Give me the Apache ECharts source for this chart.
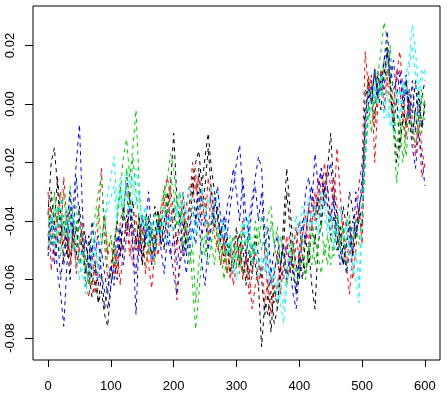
<!DOCTYPE html>
<html>
<head>
<meta charset="utf-8">
<script src="https://cdn.jsdelivr.net/npm/echarts@6/dist/echarts.min.js"></script>
<style>
  html, body { margin: 0; padding: 0; background: #fff; }
  #chart { width: 447px; height: 397px; }
</style>
</head>
<body>
<div id="chart"></div>
<script>
// sampled every 5 units on x, values below are in thousandths
const step = 5;
const scale = 0.001;

const seriesBlack = [-38,-20,-15,-28,-45,-40,-52,-35,-48,-42,-55,-50,-62,-58,-66,-60,-68,-64,-72,-76,
  -62,-55,-60,-46,-50,-38,-44,-33,-48,-40,-52,-45,-38,-47,-35,-44,-39,-50,-34,-28,
  -10,-32,-40,-35,-48,-42,-30,-20,-16,-28,-18,-10,-22,-30,-38,-45,-40,-52,-48,-56,
  -50,-44,-58,-52,-60,-48,-55,-62,-83,-68,-72,-64,-75,-70,-58,-40,-22,-35,-48,-55,
  -60,-52,-58,-50,-62,-70,-48,-40,-28,-22,-10,-30,-38,-45,-35,-42,-30,-36,-45,-40,
  -35,5,2,8,-5,10,4,15,20,8,-5,-20,-10,0,-8,5,-3,8,-5,2,8];

const seriesRed = [-30,-57,-45,-38,-48,-25,-40,-52,-46,-55,-50,-44,-62,-66,-55,-58,-40,-22,-48,-60,
  -55,-48,-58,-40,-35,-28,-48,-55,-45,-52,-38,-48,-55,-63,-50,-42,-36,-30,-25,-33,
  -45,-67,-52,-45,-35,-28,-32,-24,-38,-30,-42,-25,-35,-45,-50,-42,-55,-48,-60,-52,
  -45,-55,-40,-50,-58,-70,-62,-55,-60,-50,-65,-58,-68,-62,-55,-60,-50,-45,-58,-48,
  -40,-52,-45,-35,-42,-30,-38,-25,-32,-22,-28,-35,-15,-30,-45,-55,-65,-50,-40,-28,
  -20,18,5,10,-20,0,8,3,12,5,0,10,18,5,-8,2,-5,-15,-8,-25,-20];

const seriesGreen = [-42,-38,-48,-35,-40,-30,-45,-36,-50,-40,-55,-48,-58,-52,-45,-38,-30,-25,-42,-55,
  -60,-48,-40,-30,-18,-12,-25,-15,-2,-28,-45,-55,-50,-42,-48,-38,-44,-32,-25,-17,
  -22,-35,-30,-40,-50,-45,-62,-77,-65,-52,-45,-55,-48,-38,-45,-55,-48,-58,-50,-45,
  -55,-48,-60,-52,-45,-55,-48,-42,-50,-45,-38,-35,-48,-42,-55,-50,-58,-48,-55,-62,
  -58,-52,-60,-48,-55,-45,-52,-58,-48,-55,-45,-52,-40,-48,-55,-45,-38,-48,-42,-35,
  -30,-15,-5,5,0,10,18,28,22,5,-10,-27,-15,-5,-18,-5,-12,-2,-10,5,-5];

const seriesBlue = [-45,-48,-40,-58,-65,-76,-55,-42,-35,-20,-7,-38,-48,-55,-40,-50,-45,-58,-64,-70,
  -62,-55,-45,-52,-38,-25,-32,-48,-72,-45,-55,-42,-30,-45,-52,-40,-48,-44,-36,-50,
  -58,-65,-55,-48,-58,-50,-42,-48,-38,-55,-62,-48,-40,-32,-40,-45,-38,-45,-35,-28,
  -20,-14,-30,-55,-40,-32,-25,-18,-22,-45,-55,-62,-58,-52,-60,-55,-48,-55,-65,-70,
  -58,-45,-30,-25,-35,-17,-28,-22,-30,-25,-20,-35,-45,-50,-55,-48,-42,-52,-30,-38,
  -25,-10,0,5,10,3,8,15,25,12,5,8,12,2,10,-5,-15,-22,-10,-18,-28];

const seriesCyan = [-40,-44,-35,-48,-38,-45,-35,-42,-50,-45,-55,-58,-65,-55,-60,-50,-55,-48,-40,-30,
  -25,-18,-35,-30,-40,-22,-28,-25,-35,-30,-42,-38,-45,-40,-50,-42,-45,-38,-48,-40,
  -32,-38,-30,-40,-35,-42,-48,-40,-35,-28,-38,-32,-40,-35,-30,-38,-45,-52,-48,-55,
  -60,-52,-45,-38,-42,-50,-48,-55,-58,-52,-62,-56,-65,-60,-68,-75,-62,-55,-48,-45,
  -40,-45,-38,-42,-35,-40,-32,-38,-30,-42,-35,-45,-40,-48,-42,-50,-45,-55,-60,-68,
  -40,-20,-5,0,5,0,8,2,-5,0,-10,-5,5,-2,10,15,27,18,5,12,10];

const seriesBlack2 = [-50,-30,-42,-25,-38,-55,-45,-60,-40,-52,-35,-48,-58,-45,-62,-55,-68,-58,-70,-62,
  -58,-48,-40,-52,-35,-45,-30,-42,-50,-38,-55,-46,-40,-52,-44,-36,-48,-40,-30,-42,
  -35,-48,-38,-52,-45,-35,-25,-40,-22,-35,-28,-15,-30,-42,-35,-48,-52,-45,-58,-50,
  -42,-55,-48,-62,-50,-58,-45,-52,-60,-72,-65,-78,-62,-70,-55,-48,-30,-42,-55,-65,
  -52,-60,-45,-55,-40,-48,-32,-42,-28,-35,-45,-38,-50,-42,-55,-48,-40,-52,-45,-38,
  -42,-5,8,0,12,5,-2,10,18,5,-8,2,-15,-5,8,0,-10,-2,5,-8,0];

const seriesRed2 = [-45,-35,-52,-40,-30,-48,-38,-55,-42,-58,-48,-40,-55,-62,-50,-65,-55,-48,-38,-52,
  -45,-58,-50,-62,-48,-40,-52,-45,-38,-50,-42,-58,-48,-55,-44,-52,-40,-32,-45,-28,
  -38,-50,-42,-30,-45,-35,-20,-30,-25,-40,-32,-45,-28,-38,-48,-55,-45,-58,-50,-62,
  -55,-48,-60,-52,-65,-58,-50,-62,-55,-68,-60,-72,-58,-50,-65,-55,-45,-58,-50,-42,
  -55,-45,-38,-48,-32,-40,-25,-35,-20,-30,-40,-25,-35,-48,-40,-55,-45,-60,-50,-35,
  -48,-10,10,0,-8,5,12,-2,8,0,-5,12,5,-5,-12,0,-10,-18,-5,-15,-22];

const seriesGreen2 = [-36,-48,-30,-42,-52,-38,-45,-28,-40,-35,-48,-42,-55,-62,-50,-45,-35,-48,-38,-50,
  -45,-55,-38,-28,-40,-22,-35,-18,-30,-40,-48,-38,-52,-45,-55,-42,-35,-28,-38,-25,
  -30,-42,-35,-48,-40,-55,-48,-68,-55,-45,-52,-40,-48,-55,-42,-50,-60,-52,-45,-55,
  -48,-58,-42,-50,-45,-55,-40,-48,-38,-45,-52,-40,-48,-55,-45,-52,-62,-55,-48,-58,
  -52,-45,-58,-50,-42,-55,-48,-40,-52,-45,-55,-48,-38,-50,-42,-58,-50,-45,-40,-48,
  -38,-20,0,-10,5,12,3,15,8,20,-2,-15,-5,-20,-8,0,-8,-15,-3,-10,2];

const seriesBlue2 = [-52,-40,-55,-45,-60,-50,-42,-30,-45,-25,-40,-52,-45,-58,-48,-55,-62,-50,-58,-65,
  -55,-62,-50,-42,-55,-45,-35,-50,-58,-45,-38,-48,-42,-55,-48,-40,-50,-58,-45,-52,
  -45,-55,-48,-40,-52,-45,-35,-42,-30,-45,-38,-50,-42,-35,-28,-40,-48,-35,-30,-22,
  -30,-40,-25,-38,-45,-35,-28,-40,-30,-50,-42,-58,-50,-45,-55,-48,-60,-52,-58,-65,
  -50,-40,-48,-35,-28,-38,-30,-22,-35,-28,-40,-32,-45,-55,-48,-58,-50,-40,-45,-35,
  -30,-5,5,0,12,2,10,5,18,8,15,3,10,0,5,-5,8,-10,2,-8,-5];

const seriesCyan2 = [-48,-38,-50,-42,-32,-45,-40,-48,-38,-52,-60,-50,-62,-58,-52,-45,-58,-50,-42,-35,
  -32,-28,-40,-25,-35,-28,-38,-30,-22,-32,-40,-35,-48,-42,-38,-45,-40,-35,-42,-38,
  -45,-35,-42,-30,-38,-28,-35,-45,-38,-30,-42,-35,-28,-38,-42,-48,-40,-52,-45,-58,
  -50,-45,-40,-48,-38,-55,-48,-60,-52,-58,-50,-62,-55,-68,-60,-70,-58,-50,-45,-38,
  -45,-35,-40,-32,-42,-35,-45,-30,-38,-45,-38,-50,-42,-35,-48,-40,-52,-58,-50,-62,
  -35,-10,5,-2,8,0,10,-5,5,-8,-2,5,-5,8,2,12,20,10,0,8,12];

const lineColors = ['#000000', '#FF0000', '#00CD00', '#0000FF', '#00FFFF'];
const allSeries = [seriesBlack, seriesRed, seriesGreen, seriesBlue, seriesCyan,
  seriesBlack2, seriesRed2, seriesGreen2, seriesBlue2, seriesCyan2];

const xTicks = [0, 100, 200, 300, 400, 500, 600];
const yTicks = [-0.08, -0.06, -0.04, -0.02, 0.00, 0.02];

const chart = echarts.init(document.getElementById('chart'));

const series = allSeries.map((vals, k) => ({
  type: 'line',
  data: vals.map((v, i) => [i * step, v * scale]),
  showSymbol: false,
  lineStyle: { color: lineColors[k % lineColors.length], width: 1, type: [4, 4] },
  silent: true
}));

chart.setOption({
  animation: false,
  grid: {
    left: 33, top: 6, width: 407, height: 354,
    show: true, borderColor: '#000', borderWidth: 1
  },
  xAxis: {
    type: 'value', min: -24, max: 624,
    splitLine: { show: false },
    axisLine: { show: false, onZero: false },
    axisTick: { show: true, length: 7, lineStyle: { color: '#000' }, customValues: xTicks },
    axisLabel: {
      customValues: xTicks, margin: 20, color: '#000',
      fontFamily: 'Liberation Sans', fontSize: 13
    }
  },
  yAxis: {
    type: 'value', min: -0.0875, max: 0.0335,
    splitLine: { show: false },
    axisLine: { show: false, onZero: false },
    axisTick: { show: true, length: 8, lineStyle: { color: '#000' }, customValues: yTicks },
    axisLabel: {
      customValues: yTicks, rotate: 90, margin: 16, color: '#000',
      fontFamily: 'Liberation Sans', fontSize: 13,
      formatter: v => v.toFixed(2)
    }
  },
  series: series
});
</script>
</body>
</html>
